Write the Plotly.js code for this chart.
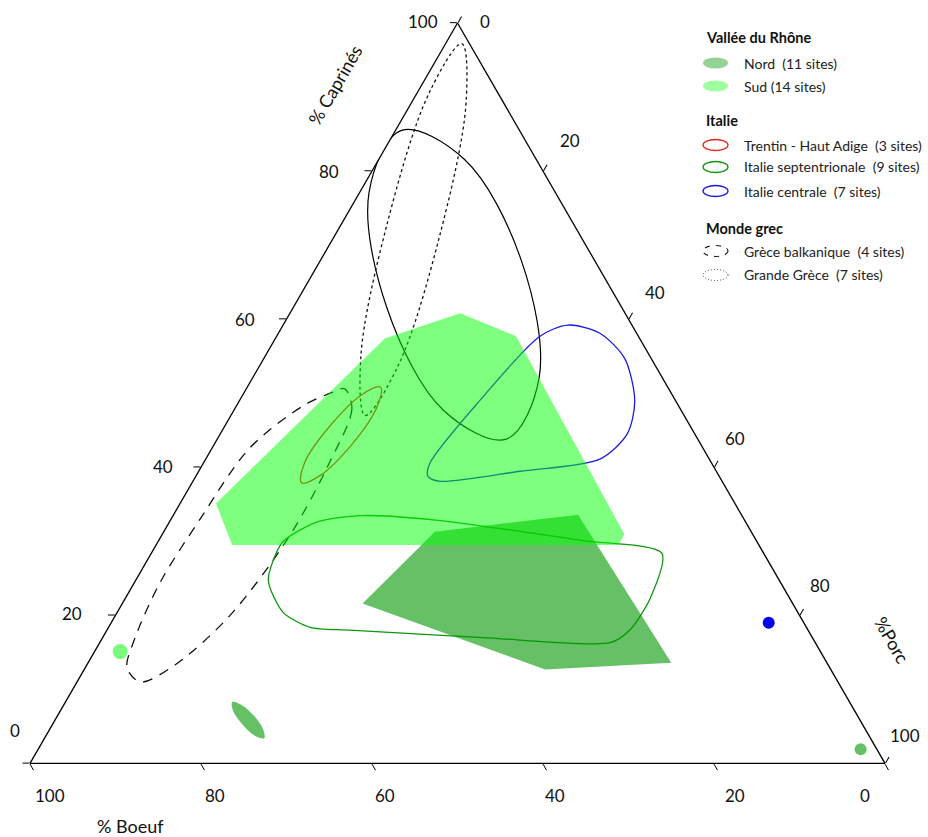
<!DOCTYPE html>
<html><head><meta charset="utf-8">
<script src="https://cdn.plot.ly/plotly-3.0.1.min.js"></script>
<style>html,body{margin:0;padding:0;background:#fff;} #chart{width:928px;height:837px;}</style>
</head><body><div id="chart"></div>
<script>
// ---- axes ----
const tickValues = [0, 20, 40, 60, 80, 100];
const tickLabels = ['0', '20', '40', '60', '80', '100'];
const titleCaprines = '% Caprinés';
const titleBoeuf = '% Boeuf';
const titlePorc = '%Porc';

// ---- Vallée du Rhône : Sud (14 sites), polygon ----
const sudCap   = [35.1, 57.4, 60.8, 57.7, 31.0, 29.5, 29.5];
const sudBoeuf = [60.7, 29.8, 19.3, 14.3, 15.0, 16.4, 61.6];
const sudPorc  = [4.2, 12.8, 19.9, 28.0, 54.0, 54.1, 8.9];
const sudDotCap = [15.1], sudDotBoeuf = [81.9], sudDotPorc = [3.0];

// ---- Vallée du Rhône : Nord (11 sites) ----
const nordCap   = [21.6, 31.3, 33.6, 13.6, 12.7];
const nordBoeuf = [50.3, 37.0, 19.1, 18.2, 33.4];
const nordPorc  = [28.1, 31.7, 47.3, 68.2, 53.9];
const nordSmallCap   = [3.4, 4.6, 6.5, 8.0, 8.3, 7.1, 5.2, 3.7];
const nordSmallBoeuf = [70.9, 70.5, 70.6, 71.4, 72.2, 72.7, 72.5, 71.8];
const nordSmallPorc  = [25.7, 25.0, 22.9, 20.6, 19.5, 20.2, 22.3, 24.5];
const nordDotCap = [1.9], nordDotBoeuf = [1.9], nordDotPorc = [96.2];

// ---- Italie : Trentin - Haut Adige (3 sites) ----
const trentinCap   = [50.8, 48.0, 43.1, 38.9, 37.9, 40.7, 45.6, 49.8];
const trentinBoeuf = [33.6, 35.4, 40.8, 46.6, 49.3, 47.5, 42.1, 36.3];
const trentinPorc  = [15.6, 16.5, 16.1, 14.5, 12.8, 11.8, 12.3, 13.9];

// ---- Italie septentrionale (9 sites) ----
const septCap   = [24.8, 29.9, 32.7, 33.5, 32.9, 30.1, 28.4, 22.2, 18.0, 16.3, 17.0, 18.0, 18.4, 20.4];
const septBoeuf = [59.8, 55.5, 50.0, 44.7, 36.4, 20.3, 11.9, 16.4, 20.9, 24.0, 38.5, 53.6, 58.1, 60.2];
const septPorc  = [15.5, 14.6, 17.4, 21.9, 30.7, 49.6, 59.7, 61.4, 61.2, 59.7, 44.5, 28.4, 23.6, 19.4];

// ---- Italie centrale (7 sites) ----
const centraleCap   = [38.8, 38.1, 39.5, 41.1, 44.5, 49.0, 54.7, 58.1, 59.2, 57.7, 49.0, 40.5];
const centraleBoeuf = [34.1, 33.0, 23.0, 12.8, 7.9, 4.8, 3.1, 4.3, 7.5, 11.5, 22.9, 33.0];
const centralePorc  = [27.2, 28.9, 37.6, 46.1, 47.6, 46.3, 42.2, 37.6, 33.3, 30.8, 28.1, 26.5];
const centraleDotCap = [19.0], centraleDotBoeuf = [4.1], centraleDotPorc = [76.9];

// ---- black solid ellipse ----
const blackCap   = [43.8, 52.1, 67.8, 81.6, 85.5, 77.1, 61.5, 47.7];
const blackBoeuf = [22.4, 14.4, 8.6, 8.4, 13.8, 21.8, 27.5, 27.8];
const blackPorc  = [33.8, 33.5, 23.6, 10.0, 0.7, 1.1, 11.0, 24.5];

// ---- Monde grec : Grèce balkanique (4 sites) ----
const balkCap   = [50.6, 47.9, 40.8, 30.9, 20.0, 13.3, 11.0, 12.9, 17.0, 24.5, 33.1, 42.6, 48.3, 50.1];
const balkBoeuf = [37.9, 38.4, 44.5, 54.1, 66.6, 76.4, 81.6, 82.2, 79.2, 72.6, 63.6, 53.0, 43.9, 39.6];
const balkPorc  = [11.5, 13.7, 14.7, 15.0, 13.4, 10.3, 7.4, 4.9, 3.8, 3.0, 3.4, 4.4, 7.8, 10.3];

// ---- Monde grec : Grande Grèce (7 sites) ----
const ggCap   = [97.3, 89.2, 71.2, 53.7, 47.0, 55.0, 73.0, 90.5];
const ggBoeuf = [0.9, 4.4, 16.5, 30.1, 37.3, 33.8, 21.7, 8.0];
const ggPorc  = [1.9, 6.4, 12.3, 16.2, 15.7, 11.2, 5.3, 1.4];

// ---- legend ----
const legendHeaders = ['Vallée du Rhône', 'Italie', 'Monde grec'];
const legendLabels = ['Nord\u00a0 (11 sites)', 'Sud (14 sites)', 'Trentin - Haut Adige\u00a0 (3 sites)',
  'Italie septentrionale\u00a0 (9 sites)', 'Italie centrale\u00a0 (7 sites)',
  'Grèce balkanique\u00a0 (4 sites)', 'Grande Grèce\u00a0 (7 sites)'];

const FONT = 'Lato, "Open Sans", sans-serif';
const closed = arr => arr.concat([arr[0]]);

function loop(cap, boeuf, porc, color, width, dash, smoothing) {
  return {type: 'scatterternary', mode: 'lines', a: closed(cap), b: closed(boeuf), c: closed(porc),
    line: {color: color, width: width, dash: dash, shape: 'spline', smoothing: smoothing},
    hoverinfo: 'skip', showlegend: false};
}
function area(cap, boeuf, porc, fill, spline) {
  return {type: 'scatterternary', mode: 'lines', a: closed(cap), b: closed(boeuf), c: closed(porc),
    fill: 'toself', fillcolor: fill,
    line: {width: 0, color: fill, shape: spline ? 'spline' : 'linear', smoothing: 1},
    hoverinfo: 'skip', showlegend: false};
}
function dot(cap, boeuf, porc, color, size) {
  return {type: 'scatterternary', mode: 'markers', a: cap, b: boeuf, c: porc,
    marker: {color: color, size: size, line: {width: 0}}, hoverinfo: 'skip', showlegend: false};
}

const NORD = 'rgba(0,150,0,0.6)';
const SUD = 'rgba(0,255,0,0.5)';

const traces = [
  loop(blackCap, blackBoeuf, blackPorc, '#000', 1.2, 'solid', 1),
  loop(ggCap, ggBoeuf, ggPorc, '#111', 1.3, '3px,3px', 1),
  loop(balkCap, balkBoeuf, balkPorc, '#111', 1.3, '10px,8px', 0.9),
  loop(trentinCap, trentinBoeuf, trentinPorc, '#e02a1a', 1.3, 'solid', 1),
  loop(centraleCap, centraleBoeuf, centralePorc, '#1a1ae0', 1.3, 'solid', 0.8),
  loop(septCap, septBoeuf, septPorc, '#0c960c', 1.3, 'solid', 0.7),
  area(nordCap, nordBoeuf, nordPorc, NORD, false),
  area(nordSmallCap, nordSmallBoeuf, nordSmallPorc, NORD, true),
  dot(nordDotCap, nordDotBoeuf, nordDotPorc, 'rgb(102,192,102)', 12),
  area(sudCap, sudBoeuf, sudPorc, SUD, false),
  dot(sudDotCap, sudDotBoeuf, sudDotPorc, 'rgb(124,250,124)', 15),
  dot(centraleDotCap, centraleDotBoeuf, centraleDotPorc, '#0000ee', 12)
];

const axisStyle = {
  title: {text: ''}, tickmode: 'array', tickvals: tickValues, ticks: 'outside', ticklen: 7,
  tickwidth: 1, tickcolor: '#000', showline: true, linecolor: '#000', linewidth: 1.3,
  showgrid: false, showticklabels: false, min: 0
};

const W = 928, H = 837;
const px = x => x / W, py = y => (H - y) / H;

const annotations = [
  {text: titleCaprines, x: px(335), y: py(85), textangle: -60},
  {text: titleBoeuf, x: px(130), y: py(826), textangle: 0},
  {text: titlePorc, x: px(892), y: py(640), textangle: 60}
].map(a => Object.assign({xref: 'paper', yref: 'paper', showarrow: false, xanchor: 'center', yanchor: 'middle',
  font: {family: FONT, size: 18, color: '#111'}}, a));

// tick label placement (pixel positions outside each triangle edge), same order as tickValues
const capLabelPos   = [[15, 730], [72, 613], [163, 466], [245, 319], [329, 172], [423, 22]];
const boeufLabelPos = [[865, 795], [735, 795], [555, 795], [385, 795], [215, 795], [50, 795]];
const porcLabelPos  = [[485, 22], [570, 140], [655, 292], [735, 438], [820, 585], [905, 735]];
[capLabelPos, boeufLabelPos, porcLabelPos].forEach(list => list.forEach((p, i) => annotations.push({
  text: tickLabels[i], x: px(p[0]), y: py(p[1]), xref: 'paper', yref: 'paper', showarrow: false,
  xanchor: 'center', yanchor: 'middle', font: {family: FONT, size: 17, color: '#111'}})));

const headerY = [37, 120, 228];
legendHeaders.forEach((t, i) => annotations.push({text: '<b>' + t + '</b>', x: px(704), y: py(headerY[i]),
  xref: 'paper', yref: 'paper', xanchor: 'left', yanchor: 'middle', showarrow: false,
  font: {family: FONT, size: 14.5, color: '#111'}}));
const itemY = [63, 86, 145, 167, 191, 251, 275];
legendLabels.forEach((t, i) => annotations.push({text: t, x: px(742), y: py(itemY[i]),
  xref: 'paper', yref: 'paper', xanchor: 'left', yanchor: 'middle', showarrow: false,
  font: {family: FONT, size: 14, color: '#222'}}));

const markerStyles = [
  {fillcolor: 'rgba(0,150,0,0.42)', line: {width: 0}},
  {fillcolor: 'rgba(0,255,0,0.38)', line: {width: 0}},
  {fillcolor: 'rgba(0,0,0,0)', line: {color: '#e02a1a', width: 1.3}},
  {fillcolor: 'rgba(0,0,0,0)', line: {color: '#0c960c', width: 1.3}},
  {fillcolor: 'rgba(0,0,0,0)', line: {color: '#1a1ae0', width: 1.3}},
  {fillcolor: 'rgba(0,0,0,0)', line: {color: '#222', width: 1.2, dash: '5px,6px'}},
  {fillcolor: 'rgba(0,0,0,0)', line: {color: '#444', width: 1, dash: '1px,2px'}}
];
const shapes = markerStyles.map((s, i) => Object.assign({type: 'circle', xref: 'paper', yref: 'paper',
  xsizemode: 'pixel', ysizemode: 'pixel', xanchor: px(715.5), yanchor: py(itemY[i]),
  x0: -12.5, x1: 12.5, y0: -5.5, y1: 5.5}, s));

const layout = {
  width: W, height: H, margin: {l: 0, r: 0, t: 0, b: 0},
  paper_bgcolor: '#fff', showlegend: false,
  font: {family: FONT},
  ternary: {
    sum: 100,
    domain: {x: [30 / W, 885 / W], y: [(H - 777.4) / H, (H - 9) / H]},
    bgcolor: 'rgba(0,0,0,0)',
    aaxis: axisStyle, baxis: axisStyle, caxis: axisStyle
  },
  annotations: annotations,
  shapes: shapes
};

Plotly.newPlot('chart', traces, layout, {displayModeBar: false, staticPlot: true});
</script>
</body></html>
